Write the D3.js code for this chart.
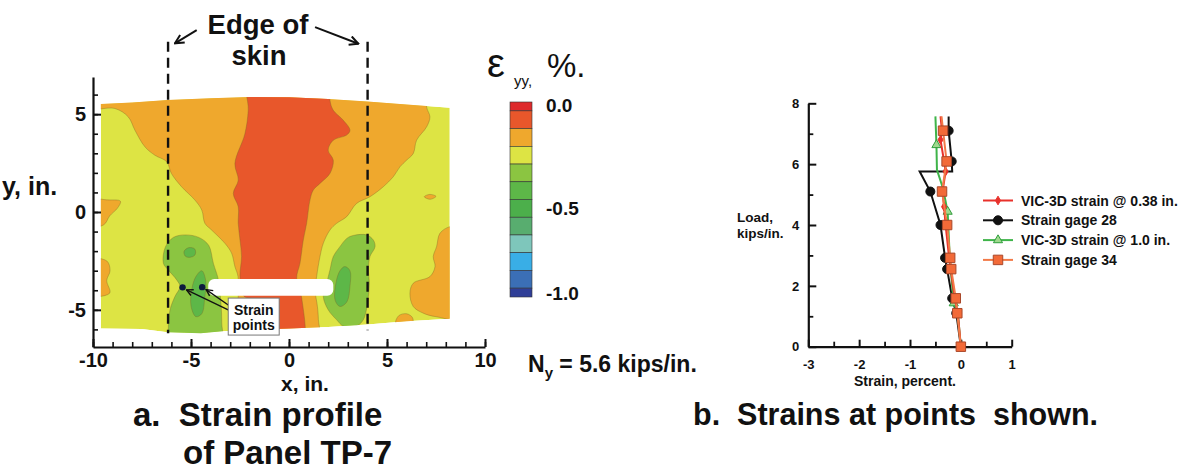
<!DOCTYPE html>
<html>
<head>
<meta charset="utf-8">
<script src="https://cdn.jsdelivr.net/npm/d3@7"></script>
<style>
  body { margin: 0; background: #fff; }
  text { font-family: "Liberation Sans", Arial, Helvetica, sans-serif; fill: #111; }
</style>
</head>
<body>
<div id="root"></div>
<script>
// ---------- data : strain field (a) ----------
// contour band colours, top (0.0 %) to bottom (-1.0 %)
const bandColors = ["#de2a2c", "#e8572b", "#efa82d", "#dde444", "#8bc541", "#5db748",
  "#4caf4b", "#58ad6f", "#7ec6bb", "#39aee6", "#3b6fb6", "#2f3e97"];
const cbLabels = ["0.0", "-0.5", "-1.0"];
const cbLabelBands = [0, 6, 11];

const xTicksL = [-10, -5, 0, 5, 10];
const xTickLabelsL = ["-10", "-5", "0", "5", "10"];
const yTicksL = [-5, 0, 5];
const yTickLabelsL = ["-5", "0", "5"];

// outline of the measured area (x, y in inches)
const panelEdge = [[-9.6, 5.52], [-8, 5.6], [-6.2, 5.72], [-4, 5.82], [-2, 5.88], [0, 5.86], [2, 5.78],
  [4, 5.65], [6, 5.5], [8.2, 5.33], [8.2, -5.45], [6, -5.58], [4, -5.75], [3, -5.82], [2, -5.88],
  [0, -5.95], [-2, -6.02], [-3.4, -6.1], [-4.5, -6.2], [-6.2, -6.15], [-7.5, -5.98], [-9.6, -5.95]];

// iso-strain band boundaries (band index into bandColors)
const orangeZone = [[-10.5, 7], [-10.5, 5.32], [-8.88, 5.29], [-8.2, 4.86], [-7.86, 4.18], [-7.35, 3.33],
  [-6.84, 2.9], [-6.24, 2.57], [-6.0, 1.97], [-5.48, 1.29], [-4.8, 0.61], [-4.45, 0.1], [-4.29, -0.58],
  [-3.95, -0.92], [-3.27, -1.6], [-2.93, -2.1], [-2.76, -2.79], [-2.6, -3.3], [-2.6, -4.5], [-2.7, -5.5],
  [-2.7, -7], [1.5, -7], [1.5, -5.5], [1.45, -4.83], [1.33, -3.98], [1.41, -3.3], [1.58, -2.28],
  [1.75, -1.6], [2.09, -0.92], [2.43, -0.58], [2.94, -0.24], [3.45, 0.44], [4.13, 0.78], [4.81, 1.29],
  [5.32, 1.8], [5.66, 2.31], [6.0, 2.65], [6.34, 2.99], [6.51, 3.67], [7.02, 4.35], [7.19, 4.86],
  [7.02, 5.37], [7.0, 7]];
const redZone = [[-2.08, 7], [-2.08, 5.2], [-2.25, 4.0], [-2.76, 2.48], [-2.59, 1.63], [-2.84, 0.95],
  [-2.59, 0.27], [-2.59, -0.58], [-2.5, -1.43], [-2.42, -2.28], [-2.5, -3.3], [-2.3, -4.3], [-1.0, -4.6],
  [-0.97, -7], [0.65, -7], [0.65, -4.4], [0.39, -3.38], [0.56, -2.62], [0.73, -1.43], [0.9, -0.58],
  [1.07, 0.61], [1.24, 1.12], [1.58, 1.46], [2.09, 1.97], [2.26, 2.65], [2.0, 3.16], [2.26, 3.67],
  [2.94, 3.93], [3.11, 4.18], [2.77, 4.69], [2.26, 5.2], [2.09, 5.71], [2.09, 7]];
const greenLeft = [[-5.3, -1.17], [-4.6, -1.3], [-4.1, -1.7], [-3.86, -2.62], [-3.6, -3.47], [-3.5, -4.32],
  [-3.45, -5.0], [-3.43, -5.68], [-3.45, -7], [-6.16, -7], [-6.16, -6.02], [-6.07, -5.0], [-5.82, -4.32],
  [-5.56, -3.81], [-5.73, -3.47], [-6.16, -2.96], [-6.41, -2.62], [-6.3, -1.77], [-5.9, -1.3]];
const greenRight = [[3.28, -1.2], [3.96, -1.17], [4.3, -1.43], [4.39, -1.77], [4.13, -2.28], [4.05, -2.96],
  [4.1, -3.64], [4.05, -4.32], [3.95, -5.0], [3.79, -5.51], [3.5, -5.8], [2.8, -5.85], [2.43, -5.51],
  [2.0, -5.0], [1.75, -4.32], [1.92, -3.64], [2.09, -2.96], [2.26, -2.28], [2.6, -1.77], [2.95, -1.35]];
const darkLeftTop = [[-5.35, -2.0], [-5.1, -1.82], [-4.8, -1.9], [-4.8, -2.2], [-5.1, -2.32], [-5.3, -2.25]];
const darkLeftLow = [[-4.45, -3.0], [-4.25, -3.5], [-4.3, -4.4], [-4.45, -5.2], [-4.75, -5.35], [-5.0, -4.8],
  [-4.95, -3.9], [-4.75, -3.3]];
const darkRight = [[2.85, -2.79], [3.11, -3.0], [3.11, -3.8], [2.95, -4.6], [2.6, -4.83], [2.35, -4.5],
  [2.4, -3.6], [2.6, -3.0]];
const orangeLeftA = [[-10.5, 0.65], [-9.3, 0.62], [-8.6, 0.55], [-8.75, 0.2], [-9.15, -0.2], [-9.45, -0.65], [-10.5, -0.8]];
const orangeLeftB = [[-10.5, -2.45], [-9.3, -2.5], [-9.13, -3.0], [-9.3, -3.5], [-9.15, -4.15], [-10.5, -4.2]];
const orangeRightA = [[6.9, 0.78], [7.19, 0.9], [7.5, 0.8], [7.2, 0.65]];
const orangeRightB = [[9, -0.7], [8.2, -0.75], [7.7, -1.09], [7.53, -1.77], [7.36, -2.28], [7.45, -2.79],
  [7.19, -3.3], [6.34, -3.64], [6.17, -4.15], [6.34, -4.83], [6.85, -5.17], [7.5, -5.35], [9, -5.4]];
const orangeRightC = [[5.45, -5.7], [5.6, -5.3], [6.0, -5.2], [6.3, -5.4], [6.3, -5.7]];

// cut-out, edge-of-skin lines and the two strain points (inches)
const cutout = { x0: -4.12, x1: 2.26, y0: -3.42, y1: -4.28 };
const skinEdges = [-6.17, 4.01];
const strainPoints = [[-5.43, -3.85], [-4.43, -3.84]];

// ---------- data : strains at points (b) ----------
const xTicksR = [-3, -2, -1, 0, 1];
const xTickLabelsR = ["-3", "-2", "-1", "0", "1"];
const yTicksR = [0, 2, 4, 6, 8];
// [strain %, load kips/in.]
const vic038 = [[0, 0], [-0.06, 1.1], [-0.12, 1.59], [-0.2, 2.55], [-0.23, 2.92], [-0.3, 4.0], [-0.33, 4.6],
  [-0.36, 5.1], [-0.3, 5.76], [-0.33, 6.09], [-0.4, 6.8], [-0.37, 7.1], [-0.4, 7.57]];
const vic038Marks = [[-0.06, 1.1], [-0.2, 2.55], [-0.33, 4.6], [-0.3, 5.76], [-0.4, 6.8]];
const gage28 = [[0, 0], [-0.09, 1.1], [-0.17, 1.59], [-0.27, 2.55], [-0.31, 2.92], [-0.4, 4.0], [-0.6, 5.1],
  [-0.81, 5.76], [-0.17, 5.76], [-0.18, 6.09], [-0.24, 7.1], [-0.24, 7.57]];
const gage28Marks = [[-0.09, 1.1], [-0.17, 1.59], [-0.27, 2.55], [-0.31, 2.92], [-0.4, 4.0], [-0.6, 5.1],
  [-0.18, 6.09], [-0.24, 7.1]];
const vic10 = [[0, 0], [-0.06, 1.1], [-0.14, 1.43], [-0.2, 2.55], [-0.22, 3.0], [-0.26, 4.44], [-0.35, 5.2],
  [-0.47, 5.81], [-0.48, 6.63], [-0.5, 7.57]];
const vic10Marks = [[-0.14, 1.43], [-0.26, 4.44], [-0.48, 6.63]];
const gage34 = [[0, 0], [-0.07, 1.1], [-0.1, 1.59], [-0.19, 2.55], [-0.21, 2.92], [-0.27, 4.0], [-0.37, 5.1],
  [-0.28, 6.09], [-0.35, 7.1], [-0.38, 7.57]];
const gage34Marks = [[0, 0], [-0.07, 1.1], [-0.1, 1.59], [-0.19, 2.55], [-0.21, 2.92], [-0.27, 4.0],
  [-0.37, 5.1], [-0.28, 6.09], [-0.35, 7.1]];
const seriesNames = ["VIC-3D strain @ 0.38 in.", "Strain gage 28", "VIC-3D strain @ 1.0 in.", "Strain gage 34"];

// ---------- drawing ----------
const FONT = '"Liberation Sans", Arial, Helvetica, sans-serif';
let svg = d3.select("#root").append("svg").attr("width", 1184).attr("height", 473);
svg.append("rect").attr("width", 1184).attr("height", 473).attr("fill", "#fff");
let defs = svg.append("defs");

function arrowMarker(id, size) {
  defs.append("marker").attr("id", id).attr("viewBox", "0 0 10 10").attr("refX", 9).attr("refY", 5)
    .attr("markerUnits", "userSpaceOnUse").attr("markerWidth", size).attr("markerHeight", size)
    .attr("orient", "auto")
    .append("path").attr("d", "M1,1 L9,5 L1,9").attr("fill", "none").attr("stroke", "#111").attr("stroke-width", 1.8);
}
arrowMarker("arrBig", 11);
arrowMarker("arrSmall", 8);

function styleAxis(g, size) {
  g.attr("font-family", FONT);
  g.select(".domain").attr("stroke", "#111").attr("stroke-width", 2.2);
  g.selectAll(".tick line").attr("stroke", "#111").attr("stroke-width", 2);
  g.selectAll(".tick text").attr("fill", "#111").style("font-size", size + "px").style("font-weight", "bold");
}

// --- (a) strain field ---
let xL = d3.scaleLinear().domain([-10, 10]).range([93, 485]);
let yL = d3.scaleLinear().domain([-6.9, 6.9]).range([347, 77]);
let straight = d3.line().x(d => xL(d[0])).y(d => yL(d[1]));
let smooth = d3.line().x(d => xL(d[0])).y(d => yL(d[1])).curve(d3.curveCatmullRomClosed.alpha(0.5));

defs.append("clipPath").attr("id", "panel").append("path").attr("d", straight(panelEdge) + "Z");

let field = svg.append("g").attr("clip-path", "url(#panel)");
field.append("path").attr("d", straight(panelEdge) + "Z").attr("fill", bandColors[3]);
const regions = [
  [2, orangeZone], [2, orangeLeftA], [2, orangeLeftB], [2, orangeRightA], [2, orangeRightB], [2, orangeRightC],
  [1, redZone], [4, greenLeft], [4, greenRight], [5, darkLeftTop], [5, darkLeftLow], [5, darkRight]
];
regions.forEach(([band, pts]) => {
  field.append("path").attr("d", smooth(pts)).attr("fill", bandColors[band])
    .attr("stroke", "#7c6526").attr("stroke-opacity", 0.45).attr("stroke-width", 0.8);
});
// cut-out
svg.append("rect")
  .attr("x", xL(cutout.x0)).attr("y", yL(cutout.y0))
  .attr("width", xL(cutout.x1) - xL(cutout.x0)).attr("height", yL(cutout.y1) - yL(cutout.y0))
  .attr("rx", 6).attr("fill", "#fff");

// axes
let gxL = svg.append("g").attr("transform", "translate(0," + yL(-6.9) + ")")
  .call(d3.axisBottom(xL).tickValues(xTicksL).tickSize(-8).tickSizeOuter(0).tickPadding(6)
    .tickFormat((d, i) => xTickLabelsL[i]));
styleAxis(gxL, 20);
let gxLm = svg.append("g").attr("transform", "translate(0," + yL(-6.9) + ")")
  .call(d3.axisBottom(xL).tickValues(d3.range(-10, 11)).tickSize(-5).tickFormat(""));
gxLm.select(".domain").remove();
gxLm.selectAll(".tick line").attr("stroke", "#111").attr("stroke-width", 1.6);

let gyL = svg.append("g").attr("transform", "translate(" + xL(-10) + ",0)")
  .call(d3.axisLeft(yL).tickValues(yTicksL).tickSize(-8).tickSizeOuter(0).tickPadding(7)
    .tickFormat((d, i) => yTickLabelsL[i]));
styleAxis(gyL, 20);
let gyLm = svg.append("g").attr("transform", "translate(" + xL(-10) + ",0)")
  .call(d3.axisLeft(yL).tickValues(d3.range(-6, 7)).tickSize(-5).tickFormat(""));
gyLm.select(".domain").remove();
gyLm.selectAll(".tick line").attr("stroke", "#111").attr("stroke-width", 1.6);

svg.append("text").attr("x", 2).attr("y", 195).style("font-size", "25px").style("font-weight", "bold").text("y, in.");
svg.append("text").attr("x", xL(0) + 16).attr("y", 391).attr("text-anchor", "middle")
  .style("font-size", "21px").style("font-weight", "bold").text("x, in.");

// edge of skin
skinEdges.forEach(x => {
  svg.append("line").attr("x1", xL(x)).attr("x2", xL(x)).attr("y1", yL(8.7)).attr("y2", yL(x < 0 ? -6.2 : -6.05))
    .attr("stroke", "#111").attr("stroke-width", 2.4).attr("stroke-dasharray", "10,6");
});
svg.append("line").attr("x1", xL(-4.71)).attr("y1", yL(9.3)).attr("x2", xL(-5.82)).attr("y2", yL(8.62))
  .attr("stroke", "#111").attr("stroke-width", 2).attr("marker-end", "url(#arrBig)");
svg.append("line").attr("x1", xL(1.33)).attr("y1", yL(9.45)).attr("x2", xL(3.54)).attr("y2", yL(8.6))
  .attr("stroke", "#111").attr("stroke-width", 2).attr("marker-end", "url(#arrBig)");
svg.append("text").attr("x", 258).attr("y", 34).attr("text-anchor", "middle")
  .style("font-size", "27.5px").style("font-weight", "bold").text("Edge of");
svg.append("text").attr("x", 259).attr("y", 65).attr("text-anchor", "middle")
  .style("font-size", "27.5px").style("font-weight", "bold").text("skin");

// strain points + label
strainPoints.forEach((p, i) => {
  svg.append("line").attr("x1", xL(-3.1)).attr("y1", yL(i === 0 ? -5.0 : -4.75))
    .attr("x2", xL(p[0]) + 4).attr("y2", yL(p[1]) + 2.5)
    .attr("stroke", "#111").attr("stroke-width", 1.3).attr("marker-end", "url(#arrSmall)");
  svg.append("circle").attr("cx", xL(p[0])).attr("cy", yL(p[1])).attr("r", 3.2).attr("fill", "#0d1b3e");
});
svg.append("rect").attr("x", xL(-3.1)).attr("y", yL(-4.4)).attr("width", xL(-0.5) - xL(-3.1))
  .attr("height", yL(-6.29) - yL(-4.4)).attr("fill", "#fff").attr("stroke", "#777").attr("stroke-width", 1);
svg.append("text").attr("x", xL(-1.8)).attr("y", yL(-4.4) + 17).attr("text-anchor", "middle")
  .style("font-size", "14px").style("font-weight", "bold").text("Strain");
svg.append("text").attr("x", xL(-1.8)).attr("y", yL(-4.4) + 32).attr("text-anchor", "middle")
  .style("font-size", "14px").style("font-weight", "bold").text("points");

// colour bar
let cbY = d3.scaleLinear().domain([0, 11]).range([102, 297]);
let cb = svg.append("g").attr("transform", "translate(510,0)");
bandColors.forEach((c, i) => {
  let y0 = cbY(Math.max(i - 0.5, 0)), y1 = cbY(Math.min(i + 0.5, 11));
  cb.append("rect").attr("x", 0).attr("y", y0).attr("width", 22).attr("height", y1 - y0)
    .attr("fill", c).attr("stroke", "#333").attr("stroke-width", 0.6);
});
cbLabels.forEach((t, i) => {
  let y = Math.min(Math.max(cbY(cbLabelBands[i]), 105), 293);
  cb.append("text").attr("x", 36).attr("y", y).attr("dy", "0.36em")
    .style("font-size", "19px").style("font-weight", "bold").text(t);
});
svg.append("text").attr("x", 487).attr("y", 77).style("font-size", "40px").text("ε");
svg.append("text").attr("x", 514).attr("y", 86).style("font-size", "15px").text("yy,");
svg.append("text").attr("x", 547).attr("y", 77).style("font-size", "33px").text("%.");

// N_y
let ny = svg.append("text").attr("x", 528).attr("y", 372).style("font-size", "23px").style("font-weight", "bold");
ny.append("tspan").text("N");
ny.append("tspan").attr("dy", 6).style("font-size", "15px").text("y");
ny.append("tspan").attr("dy", -6).text(" = 5.6 kips/in.");

// titles
svg.append("text").attr("x", 133).attr("y", 426).style("font-size", "33px").style("font-weight", "bold")
  .style("white-space", "pre").text("a.  Strain profile");
svg.append("text").attr("x", 183).attr("y", 464).style("font-size", "33px").style("font-weight", "bold")
  .text("of Panel TP-7");
svg.append("text").attr("x", 693).attr("y", 425).style("font-size", "30.5px").style("font-weight", "bold")
  .style("white-space", "pre").text("b.  Strains at points  shown.");

// --- (b) strains at points ---
let xR = d3.scaleLinear().domain([-3, 1]).range([808.3, 1011.7]);
let yR = d3.scaleLinear().domain([0, 8]).range([346.7, 103.3]);

let gxR = svg.append("g").attr("transform", "translate(0," + yR(0) + ")")
  .call(d3.axisBottom(xR).tickValues(xTicksR).tickSize(-7).tickSizeOuter(0).tickPadding(13)
    .tickFormat((d, i) => xTickLabelsR[i]));
styleAxis(gxR, 13);
let gxRm = svg.append("g").attr("transform", "translate(0," + yR(0) + ")")
  .call(d3.axisBottom(xR).tickValues(d3.range(-2.5, 1, 1)).tickSize(-5).tickFormat(""));
gxRm.select(".domain").remove();
gxRm.selectAll(".tick line").attr("stroke", "#111").attr("stroke-width", 1.8);

let gyR = svg.append("g").attr("transform", "translate(" + xR(-3) + ",0)")
  .call(d3.axisLeft(yR).tickValues(yTicksR).tickSize(-8).tickSizeOuter(0).tickPadding(9));
styleAxis(gyR, 13);
let gyRm = svg.append("g").attr("transform", "translate(" + xR(-3) + ",0)")
  .call(d3.axisLeft(yR).tickValues([1, 3, 5, 7]).tickSize(-5).tickFormat(""));
gyRm.select(".domain").remove();
gyRm.selectAll(".tick line").attr("stroke", "#111").attr("stroke-width", 1.8);

svg.append("text").attr("x", 905).attr("y", 386).attr("text-anchor", "middle")
  .style("font-size", "14px").style("font-weight", "bold").text("Strain, percent.");
svg.append("text").attr("x", 737).attr("y", 222).style("font-size", "13.5px").style("font-weight", "bold").text("Load,");
svg.append("text").attr("x", 737).attr("y", 238).style("font-size", "13.5px").style("font-weight", "bold").text("kips/in.");

const styles = [
  { line: "#e8312b", fill: "#e8312b", stroke: "#e8312b", sym: d3.symbolDiamond, size: 22 },
  { line: "#111", fill: "#111", stroke: "#111", sym: d3.symbolCircle, size: 64 },
  { line: "#3fb44a", fill: "#9fd88e", stroke: "#2f9e3c", sym: d3.symbolTriangle, size: 36 },
  { line: "#f27a48", fill: "#f26a38", stroke: "#a9482a", sym: d3.symbolSquare, size: 90 }
];
const seriesLines = [vic038, gage28, vic10, gage34];
const seriesMarks = [vic038Marks, gage28Marks, vic10Marks, gage34Marks];
let lineR = d3.line().x(d => xR(d[0])).y(d => yR(d[1]));
[1, 2, 0, 3].forEach(k => {
  let st = styles[k];
  svg.append("path").attr("d", lineR(seriesLines[k])).attr("fill", "none")
    .attr("stroke", st.line).attr("stroke-width", 2);
  svg.append("g").selectAll("path").data(seriesMarks[k]).join("path")
    .attr("transform", d => "translate(" + xR(d[0]) + "," + yR(d[1]) + ")")
    .attr("d", d3.symbol().type(st.sym).size(st.size))
    .attr("fill", st.fill).attr("stroke", st.stroke).attr("stroke-width", 1);
});

// legend
seriesNames.forEach((name, k) => {
  let st = styles[k], y = 200.5 + k * 19.8;
  svg.append("line").attr("x1", 983).attr("x2", 1013).attr("y1", y).attr("y2", y)
    .attr("stroke", st.line).attr("stroke-width", 2);
  svg.append("path").attr("transform", "translate(998," + y + ")")
    .attr("d", d3.symbol().type(st.sym).size(st.size))
    .attr("fill", st.fill).attr("stroke", st.stroke).attr("stroke-width", 1);
  svg.append("text").attr("x", 1021).attr("y", y + 5).style("font-size", "14px").style("font-weight", "bold").text(name);
});
</script>
</body>
</html>
